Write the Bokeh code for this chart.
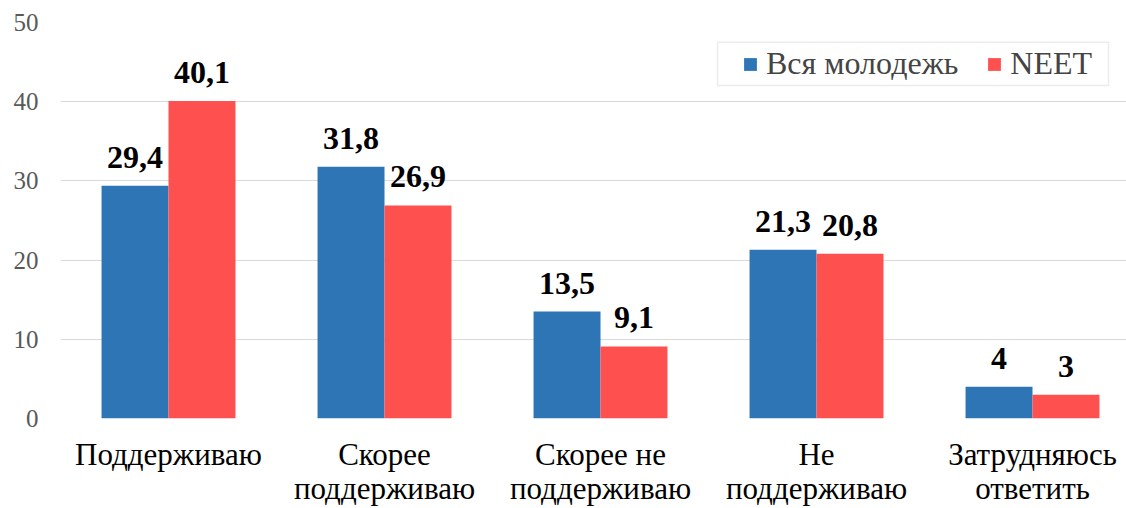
from bokeh.plotting import figure
from bokeh.models import (ColumnDataSource, Range1d, FixedTicker, LabelSet,
                          Legend, LegendItem, BoxAnnotation)
from bokeh.core.properties import value
from bokeh.embed import file_html
from bokeh.resources import INLINE

# ---- data ----
categories = ["Поддерживаю", "Скорее\nподдерживаю", "Скорее не\nподдерживаю",
              "Не\nподдерживаю", "Затрудняюсь\nответить"]
series_names = ["Вся молодежь", "NEET"]
all_youth = [29.4, 31.8, 13.5, 21.3, 4]
neet = [40.1, 26.9, 9.1, 20.8, 3]
y_ticks = [0, 10, 20, 30, 40, 50]

# ---- style ----
FONT = "Liberation Serif"
BLUE = "#2E75B6"
RED = "#FF5050"
BAR_W = 0.31
FIG_W, FIG_H = 1126, 508
LEFT, TOP, BOTTOM = 60, 22, 90
FRAME_W = FIG_W - LEFT
CAT_PX = 216


def fmt(v):
    return f"{v:g}".replace(".", ",")


idx = list(range(len(categories)))
src_a = ColumnDataSource(dict(x=[i - BAR_W / 2 for i in idx], top=all_youth,
                              lab=[fmt(v) for v in all_youth]))
src_n = ColumnDataSource(dict(x=[i + BAR_W / 2 for i in idx], top=neet,
                              lab=[fmt(v) for v in neet]))

p = figure(width=FIG_W, height=FIG_H, output_backend="svg", toolbar_location=None,
           x_range=Range1d(-0.5, -0.5 + FRAME_W / CAT_PX), y_range=Range1d(0, 50),
           min_border_left=LEFT, min_border_right=0, min_border_top=TOP,
           min_border_bottom=BOTTOM)
p.outline_line_color = None
p.background_fill_color = "white"

r_a = p.vbar(x="x", top="top", width=BAR_W, source=src_a, fill_color=BLUE,
             line_color=None)
r_n = p.vbar(x="x", top="top", width=BAR_W, source=src_n, fill_color=RED,
             line_color=None)

# x axis with category labels
p.xaxis.ticker = FixedTicker(ticks=idx)
p.xaxis.major_label_overrides = {i: c for i, c in zip(idx, categories)}
p.xaxis.axis_line_color = None
p.xaxis.major_tick_line_color = None
p.xaxis.minor_tick_line_color = None
p.xaxis.major_tick_out = 0
p.xaxis.major_label_standoff = 18
p.xaxis.major_label_text_font = FONT
p.xaxis.major_label_text_font_size = "31px"
p.xaxis.major_label_text_color = "black"
p.xaxis.major_label_text_line_height = 0.98
p.xgrid.visible = False

# y axis
p.yaxis.ticker = FixedTicker(ticks=y_ticks)
p.ygrid.ticker = FixedTicker(ticks=y_ticks)
p.ygrid.grid_line_color = "#D9D9D9"
p.ygrid.grid_line_width = 1
p.yaxis.axis_line_color = None
p.yaxis.major_tick_line_color = None
p.yaxis.minor_tick_line_color = None
p.yaxis.major_tick_out = 0
p.yaxis.major_label_standoff = 22
p.yaxis.major_label_text_font = FONT
p.yaxis.major_label_text_font_size = "25px"
p.yaxis.major_label_text_color = "#595959"

# data labels
for src in (src_a, src_n):
    p.add_layout(LabelSet(x="x", y="top", text="lab", source=src, y_offset=18,
                          text_align="center", text_baseline="alphabetic",
                          text_font=value(FONT), text_font_size=value("32px"),
                          text_font_style="bold", text_color="black"))

# legend frame
p.add_layout(BoxAnnotation(left=2.542, right=4.352, top=47.51, bottom=42.05,
                           fill_alpha=0, line_color="#BFBFBF", line_width=1.5))

legend = Legend(items=[LegendItem(label=series_names[0], renderers=[r_a]),
                       LegendItem(label=series_names[1], renderers=[r_n])],
                orientation="horizontal", location=(682, 336), padding=0,
                margin=0, spacing=28, glyph_width=16, glyph_height=16,
                label_standoff=8, label_text_font=FONT,
                label_text_font_size="32px", border_line_alpha=0,
                background_fill_alpha=0)
p.add_layout(legend)

open("out.html", "w").write(file_html(p, INLINE))
